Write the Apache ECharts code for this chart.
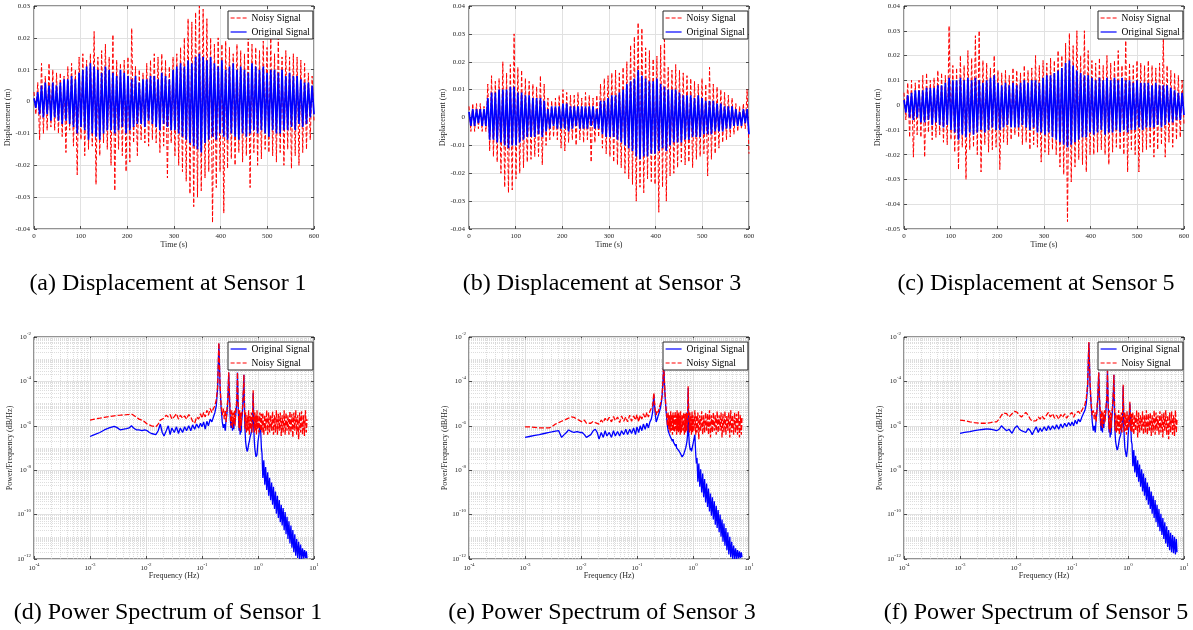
<!DOCTYPE html>
<html>
<head>
<meta charset="utf-8">
<script src="https://cdn.jsdelivr.net/npm/echarts@6/dist/echarts.min.js"></script>
<style>
  html, body { margin: 0; padding: 0; background: #fff; }
  #chart { width: 1193px; height: 630px; }
</style>
</head>
<body>
<div id="chart"></div>
<script>
// ---------------- displacement records (mm), 150 samples over 0..600 s ----------------
const sensor1OrigMm = [
  1, -2, 3, -4, 5, -5, 6, -4, 5, -6,
  6, -5, 5, -6, 6, -7, 7, -6, 7, -7,
  8, -8, 7, -10, 9, -8, 10, -9, 11, -12,
  12, -10, 11, -11, 10, -12, 9, -10, 11, -9,
  10, -9, 9, -10, 8, -9, 10, -8, 9, -10,
  8, -9, 7, -8, 8, -7, 6, -7, 7, -8,
  7, -6, 8, -7, 8, -8, 7, -9, 9, -7,
  8, -8, 7, -9, 10, -9, 11, -10, 12, -11,
  11, -12, 13, -13, 12, -14, 14, -15, 15, -16,
  14, -13, 13, -12, 14, -11, 12, -12, 11, -10,
  13, -11, 10, -12, 11, -10, 12, -11, 10, -12,
  11, -10, 10, -11, 9, -10, 12, -9, 11, -10,
  10, -9, 11, -10, 9, -11, 10, -9, 10, -10,
  9, -10, 10, -9, 8, -9, 9, -8, 8, -9,
  8, -7, 7, -8, 6, -7, 6, -5, 5, -4
];
const sensor1NoisyMm = [
  3, -4, 6, -12, 12, -10, 8, -9, 12, -8,
  10, -9, 9, -10, 9, -11, 8, -16, 11, -9,
  12, -14, 10, -23, 14, -12, 15, -17, 13, -15,
  15, -14, 22, -26, 14, -17, 16, -13, 18, -15,
  14, -20, 21, -28, 13, -15, 12, -17, 13, -22,
  14, -19, 23, -13, 11, -17, 10, -12, 9, -13,
  12, -14, 13, -12, 15, -13, 14, -16, 15, -14,
  13, -24, 11, -13, 14, -17, 15, -20, 17, -22,
  20, -25, 26, -29, 25, -33, 28, -30, 30, -28,
  29, -24, 26, -22, 20, -38, 18, -27, 20, -22,
  18, -35, 19, -21, 17, -18, 15, -20, 18, -16,
  16, -19, 15, -17, 20, -27, 18, -16, 17, -20,
  16, -18, 19, -15, 17, -16, 20, -17, 15, -19,
  20, -16, 14, -20, 16, -15, 14, -21, 15, -17,
  14, -20, 13, -16, 12, -15, 9, -12, 8, -6
];
const sensor3OrigMm = [
  2, -3, 3, -3, 3, -2, 3, -3, 3, -3,
  7, -8, 9, -8, 9, -9, 10, -9, 10, -10,
  10, -11, 11, -10, 11, -10, 9, -9, 9, -8,
  8, -7, 8, -7, 7, -7, 7, -6, 7, -7,
  6, -5, 3, -4, 4, -3, 4, -4, 4, -4,
  5, -4, 5, -5, 4, -4, 4, -3, 4, -4,
  4, -4, 4, -4, 4, -3, 4, -4, 3, -4,
  6, -6, 6, -7, 7, -7, 8, -7, 8, -8,
  9, -9, 10, -10, 12, -11, 13, -12, 14, -14,
  17, -15, 15, -14, 14, -14, 13, -13, 13, -13,
  14, -12, 12, -11, 11, -12, 10, -10, 10, -9,
  10, -9, 9, -9, 8, -8, 8, -8, 8, -7,
  7, -7, 8, -7, 7, -6, 6, -6, 6, -6,
  6, -5, 5, -5, 5, -5, 4, -4, 4, -4,
  4, -3, 3, -3, 2, -3, 3, -2, 3, -6
];
const sensor3NoisyMm = [
  4, -5, 5, -5, 5, -4, 5, -5, 4, -5,
  12, -12, 15, -14, 13, -16, 14, -20, 20, -25,
  16, -27, 19, -26, 30, -22, 18, -20, 17, -18,
  14, -16, 13, -15, 12, -14, 11, -14, 15, -17,
  12, -10, 7, -8, 6, -7, 7, -8, 8, -11,
  10, -12, 9, -9, 8, -8, 8, -10, 9, -8,
  7, -9, 9, -8, 8, -16, 7, -9, 8, -7,
  12, -11, 14, -13, 15, -14, 16, -16, 17, -17,
  16, -18, 18, -20, 20, -22, 26, -24, 29, -30,
  34, -25, 32, -27, 25, -22, 24, -23, 21, -24,
  22, -34, 26, -25, 30, -30, 18, -21, 17, -20,
  19, -18, 17, -16, 16, -17, 15, -16, 14, -18,
  13, -15, 12, -14, 14, -13, 12, -21, 18, -15,
  12, -13, 11, -11, 10, -9, 9, -8, 8, -7,
  7, -6, 5, -5, 4, -4, 5, -4, 10, -13
];
const sensor5OrigMm = [
  2, -3, 4, -5, 5, -6, 6, -5, 6, -7,
  6, -7, 7, -6, 7, -8, 7, -7, 8, -8,
  8, -9, 9, -8, 11, -10, 10, -11, 10, -14,
  11, -12, 10, -13, 11, -11, 10, -12, 11, -11,
  10, -10, 9, -11, 10, -10, 11, -9, 12, -10,
  9, -10, 8, -9, 9, -8, 8, -9, 9, -9,
  8, -9, 9, -8, 10, -9, 9, -10, 10, -9,
  10, -11, 9, -11, 11, -12, 12, -11, 12, -13,
  13, -14, 14, -15, 15, -16, 17, -17, 18, -16,
  16, -15, 14, -14, 13, -13, 12, -13, 12, -11,
  11, -12, 10, -11, 11, -10, 10, -12, 11, -11,
  10, -11, 11, -10, 10, -11, 11, -10, 10, -11,
  10, -10, 9, -10, 10, -9, 9, -10, 9, -9,
  9, -9, 8, -9, 9, -8, 8, -9, 8, -8,
  8, -7, 7, -7, 6, -6, 5, -6, 5, -4
];
const sensor5NoisyMm = [
  5, -6, 9, -13, 10, -21, 9, -12, 10, -13,
  12, -21, 13, -11, 10, -14, 11, -13, 14, -12,
  13, -15, 12, -16, 32, -14, 16, -19, 15, -26,
  20, -17, 16, -30, 22, -18, 19, -17, 28, -20,
  30, -27, 18, -16, 17, -19, 15, -18, 20, -17,
  14, -26, 13, -15, 14, -16, 12, -14, 15, -12,
  14, -13, 13, -16, 16, -15, 14, -18, 15, -16,
  20, -17, 16, -23, 18, -19, 17, -20, 19, -18,
  18, -20, 22, -25, 20, -28, 25, -47, 29, -31,
  24, -25, 30, -22, 20, -24, 30, -27, 22, -20,
  18, -20, 17, -19, 19, -18, 16, -20, 20, -24,
  17, -19, 18, -17, 22, -18, 16, -20, 26, -27,
  17, -18, 16, -20, 18, -27, 17, -19, 16, -18,
  18, -17, 16, -21, 15, -18, 17, -16, 27, -21,
  16, -15, 14, -17, 13, -14, 12, -13, 10, -8
];

// ---------------- power spectral density (shared frequency grid, Hz) ----------------
const freqHz = [
  0.001, 0.0012, 0.0015, 0.0018, 0.0022, 0.0027, 0.003, 0.0035, 0.004, 0.0045,
  0.005, 0.0055, 0.006, 0.0068, 0.0075, 0.0085, 0.0095, 0.0105, 0.0115, 0.0125,
  0.0135, 0.015, 0.0165, 0.018, 0.0195, 0.021, 0.023, 0.025, 0.027, 0.029,
  0.032, 0.035, 0.038, 0.041, 0.045, 0.049, 0.053, 0.058, 0.063, 0.068,
  0.074, 0.08, 0.087, 0.094, 0.1, 0.107, 0.114, 0.122, 0.13, 0.14,
  0.15, 0.16, 0.17, 0.18, 0.19, 0.2, 0.21, 0.22, 0.23, 0.24,
  0.25, 0.26, 0.27, 0.28, 0.29, 0.3, 0.31, 0.32, 0.33, 0.34,
  0.35, 0.36, 0.37, 0.38, 0.39, 0.4, 0.41, 0.42, 0.43, 0.44,
  0.45, 0.46, 0.47, 0.48, 0.49, 0.5, 0.51, 0.52, 0.53, 0.54,
  0.55, 0.56, 0.57, 0.58, 0.59, 0.6, 0.62, 0.64, 0.66, 0.68,
  0.7, 0.72, 0.74, 0.76, 0.78, 0.8, 0.82, 0.84, 0.86, 0.88,
  0.9, 0.92, 0.94, 0.96, 0.98, 1.0, 1.04, 1.08, 1.12, 1.15,
  1.18, 1.22, 1.27, 1.32, 1.37, 1.43, 1.49, 1.55, 1.61, 1.68,
  1.75, 1.82, 1.89, 1.97, 2.05, 2.13, 2.22, 2.31, 2.4, 2.5,
  2.6, 2.7, 2.81, 2.93, 3.05, 3.17, 3.3, 3.43, 3.57, 3.72,
  3.87, 4.03, 4.19, 4.36, 4.54, 4.72, 4.91, 5.11, 5.32, 5.54,
  5.76, 6.0, 6.24, 6.5, 6.76, 7.03, 7.3, 7.5
];
const psd1Orig = [
  3.3e-7, 4e-7, 5e-7, 6.5e-7, 8e-7, 9.5e-7, 8.5e-7, 6.5e-7, 7e-7, 7.5e-7,
  8e-7, 1e-6, 8e-7, 6.5e-7, 6.5e-7, 6e-7, 6.5e-7, 6e-7, 5e-7, 4.5e-7,
  4.5e-7, 4e-7, 6e-7, 1.2e-6, 5e-7, 3.5e-7, 6e-7, 1e-6, 4e-7, 8e-7,
  5e-7, 9e-7, 4.5e-7, 8e-7, 5e-7, 9e-7, 6e-7, 1e-6, 6e-7, 1.1e-6,
  7e-7, 1.2e-6, 8e-7, 1.3e-6, 9e-7, 1.5e-6, 7e-7, 1.6e-6, 1e-6, 2e-6,
  1.5e-6, 2.5e-6, 4e-6, 8e-6, 5e-5, 5e-3, 6e-5, 6e-6, 1.5e-6, 8e-7,
  1.2e-6, 6e-7, 2e-6, 4e-6, 1.5e-5, 2.5e-4, 1.5e-5, 2e-6, 8e-7, 1.5e-6,
  6e-7, 1.8e-6, 7e-7, 2e-6, 1.5e-6, 3e-6, 6e-6, 1.5e-5, 2.5e-4, 1.2e-5,
  2e-6, 6e-7, 1.5e-6, 4e-7, 1e-6, 5e-7, 1.5e-6, 2.5e-6, 5e-6, 1.5e-5,
  4e-5, 2e-4, 1.5e-5, 1.5e-6, 5e-7, 2e-7, 1e-7, 7e-8, 9e-8, 1.5e-7,
  2e-7, 3e-7, 3.5e-7, 5e-7, 8e-7, 1.5e-6, 3e-5, 8e-7, 2e-7, 9e-8,
  6e-8, 4e-8, 3.5e-8, 5e-8, 1e-7, 2e-7, 4e-7, 1e-6, 5e-7, 1e-7,
  5.5e-8, 4.5e-9, 2.8e-8, 2.2e-9, 1.4e-8, 1.3e-9, 8e-9, 7e-10, 4.5e-9, 4.5e-10,
  2.8e-9, 2.8e-10, 1.8e-9, 1.8e-10, 1.1e-9, 1.1e-10, 7e-10, 7e-11, 4.5e-10, 4.5e-11,
  2.8e-10, 3.2e-11, 2e-10, 2e-11, 1.3e-10, 1.3e-11, 8e-11, 8e-12, 5e-11, 5e-12,
  3.2e-11, 3.2e-12, 2e-11, 2e-12, 1.3e-11, 1.4e-12, 8e-12, 1.1e-12, 6e-12, 1e-12,
  4.5e-12, 1e-12, 3e-12, 1.05e-12, 2.5e-12, 1.1e-12, 2.2e-12, 1.1e-12
];
const psd1Noisy = [
  1.8e-6, 2e-6, 2.2e-6, 2.4e-6, 2.6e-6, 2.8e-6, 2.9e-6, 3e-6, 3.1e-6, 3.2e-6,
  3.3e-6, 3.4e-6, 3e-6, 2.4e-6, 2e-6, 1.8e-6, 1.5e-6, 1.2e-6, 1.1e-6, 1e-6,
  9e-7, 9e-7, 1.2e-6, 1.8e-6, 1.5e-6, 2.2e-6, 3e-6, 2.5e-6, 3.2e-6, 2e-6,
  2.6e-6, 3.5e-6, 2e-6, 3e-6, 2.2e-6, 2.8e-6, 2e-6, 3.2e-6, 2.5e-6, 1.6e-6,
  1.3e-6, 2.5e-6, 2e-6, 3.5e-6, 2.2e-6, 4e-6, 2.5e-6, 5e-6, 3e-6, 6e-6,
  4e-6, 6e-6, 8e-6, 1.5e-5, 6e-5, 5.5e-3, 7e-5, 8e-6, 3e-6, 6e-6,
  2e-6, 5e-6, 1.5e-6, 6e-6, 2e-5, 2.6e-4, 2e-5, 4e-6, 1e-6, 5e-6,
  8e-7, 4e-6, 1.2e-6, 5e-6, 1e-6, 6e-6, 8e-6, 2e-5, 2.5e-4, 1.5e-5,
  3e-6, 8e-7, 5e-6, 6e-7, 4e-6, 1e-6, 3e-6, 4e-6, 8e-6, 2e-5,
  5e-5, 2e-4, 2e-5, 3e-6, 7e-7, 4e-6, 5e-7, 3e-6, 6e-7, 5e-6,
  4e-7, 3e-6, 7e-7, 4e-6, 5e-7, 3e-6, 4e-5, 2e-6, 5e-7, 4e-6,
  6e-7, 3e-6, 4e-7, 5e-6, 7e-7, 3e-6, 5e-7, 4e-6, 6e-7, 3.5e-6,
  5e-7, 4e-6, 4e-7, 3e-6, 6e-7, 5e-6, 4e-7, 4e-6, 5e-7, 3e-6,
  6e-7, 4.5e-6, 4e-7, 3e-6, 5e-7, 5e-6, 4e-7, 3.5e-6, 6e-7, 4e-6,
  3.5e-7, 3e-6, 5e-7, 5e-6, 4e-7, 4e-6, 6e-7, 3e-6, 4e-7, 4.5e-6,
  5e-7, 3.5e-6, 3e-7, 4e-6, 6e-7, 5e-6, 4e-7, 3e-6, 2.5e-7, 4e-6,
  5e-7, 4.5e-6, 4e-7, 3e-6, 3.5e-7, 5e-6, 5e-7, 2e-6
];
const psd3Orig = [
  3e-7, 3.3e-7, 3.7e-7, 4e-7, 4.5e-7, 5e-7, 5.3e-7, 5.8e-7, 6e-7, 3e-7,
  4e-7, 5e-7, 6.5e-7, 5.5e-7, 5e-7, 5.5e-7, 5e-7, 5e-7, 4e-7, 3e-7,
  3.2e-7, 4e-7, 6e-7, 7e-7, 5e-7, 2.5e-7, 5e-7, 3e-7, 6e-7, 3.5e-7,
  5e-7, 3e-7, 6e-7, 3.5e-7, 5.5e-7, 3.5e-7, 6e-7, 4e-7, 7e-7, 4e-7,
  7e-7, 4.5e-7, 8e-7, 4e-7, 9e-7, 5e-7, 1e-6, 6e-7, 1.2e-6, 7e-7,
  1.3e-6, 8e-7, 1.5e-6, 2e-6, 4e-6, 2.5e-5, 4e-6, 1.5e-6, 2e-6, 3e-6,
  4e-6, 6e-6, 1e-5, 2e-5, 8e-5, 7e-4, 6e-5, 1.5e-5, 5e-6, 2e-6,
  1e-6, 6e-7, 5e-7, 4e-7, 3.5e-7, 3e-7, 2.5e-7, 3e-7, 2e-7, 2.5e-7,
  1.8e-7, 2e-7, 1.5e-7, 1.8e-7, 1.2e-7, 1.5e-7, 1e-7, 1.2e-7, 9e-8, 1e-7,
  8e-8, 9e-8, 7e-8, 8e-8, 6e-8, 6e-8, 5e-8, 4e-8, 4.5e-8, 5e-8,
  6e-8, 8e-8, 1e-7, 1.4e-7, 2e-7, 4e-7, 5e-5, 4e-7, 1.5e-7, 1e-7,
  8e-8, 1e-7, 7e-8, 9e-8, 1.2e-7, 1.5e-7, 2.5e-7, 4e-7, 5e-8, 2e-8,
  3.5e-8, 3e-9, 2e-8, 1.8e-9, 1.1e-8, 1e-9, 7e-9, 6e-10, 4e-9, 3.5e-10,
  2.5e-9, 2.2e-10, 1.5e-9, 1.4e-10, 9e-10, 9e-11, 6e-10, 6e-11, 4e-10, 3.5e-11,
  2.5e-10, 2.5e-11, 1.6e-10, 1.6e-11, 1e-10, 1e-11, 6e-11, 6e-12, 4e-11, 4e-12,
  2.5e-11, 2.5e-12, 1.6e-11, 1.6e-12, 1e-11, 1.2e-12, 6e-12, 1e-12, 4e-12, 1e-12,
  3e-12, 1e-12, 2.5e-12, 1.05e-12, 2.2e-12, 1.1e-12, 2e-12, 1.2e-12
];
const psd3Noisy = [
  9e-7, 9e-7, 8.5e-7, 8e-7, 8e-7, 8e-7, 9e-7, 1.2e-6, 1.4e-6, 1.6e-6,
  1.8e-6, 2e-6, 2.2e-6, 2.5e-6, 2.4e-6, 2e-6, 1.7e-6, 1.5e-6, 1.8e-6, 1.3e-6,
  1.1e-6, 1.3e-6, 1.6e-6, 1.4e-6, 1.7e-6, 1.2e-6, 1.8e-6, 1.4e-6, 2.2e-6, 1.6e-6,
  2.4e-6, 1.5e-6, 2.6e-6, 1.7e-6, 2.5e-6, 1.4e-6, 2.8e-6, 1.6e-6, 2.5e-6, 1.5e-6,
  3e-6, 1.6e-6, 2.8e-6, 1.8e-6, 3.2e-6, 1.5e-6, 3e-6, 2e-6, 3.5e-6, 2.2e-6,
  4e-6, 2.5e-6, 4.5e-6, 5e-6, 8e-6, 3e-5, 6e-6, 3e-6, 5e-6, 4e-6,
  7e-6, 9e-6, 1.3e-5, 2.5e-5, 9e-5, 8e-4, 8e-5, 2e-5, 6e-6, 3e-6,
  1e-6, 4e-6, 7e-7, 3e-6, 5e-7, 4.5e-6, 6e-7, 3e-6, 4e-7, 4e-6,
  6e-7, 3e-6, 5e-7, 4.5e-6, 7e-7, 3e-6, 4e-7, 5e-6, 6e-7, 3.5e-6,
  5e-7, 4e-6, 6e-7, 3e-6, 4e-7, 4.5e-6, 5e-7, 3e-6, 6e-7, 4e-6,
  4e-7, 3.5e-6, 5e-7, 4e-6, 6e-7, 3e-6, 6e-5, 3e-6, 5e-7, 4e-6,
  6e-7, 3e-6, 4e-7, 4.5e-6, 5e-7, 3e-6, 6e-7, 5e-6, 4e-7, 3e-6,
  5e-7, 4e-6, 2.5e-7, 3e-6, 6e-7, 4.5e-6, 4e-7, 3e-6, 5e-7, 4e-6,
  6e-7, 3.5e-6, 4e-7, 5e-6, 3e-7, 3e-6, 5e-7, 4e-6, 6e-7, 3e-6,
  4e-7, 4.5e-6, 5e-7, 3e-6, 6e-7, 4e-6, 3e-7, 3.5e-6, 5e-7, 4.5e-6,
  4e-7, 3e-6, 6e-7, 4e-6, 3e-7, 5e-6, 5e-7, 3e-6, 4e-7, 4e-6,
  5e-7, 3.5e-6, 4e-7, 4.5e-6, 3e-7, 3e-6, 4e-7, 2.5e-6
];
const psd5Orig = [
  4.6e-7, 5e-7, 5.5e-7, 6e-7, 6.5e-7, 7e-7, 7.2e-7, 7e-7, 6.5e-7, 6e-7,
  7e-7, 1e-6, 8e-7, 6e-7, 7e-7, 4.6e-7, 8e-7, 1e-6, 7e-7, 6e-7,
  6e-7, 5e-7, 7.5e-7, 6e-7, 4e-7, 6e-7, 9e-7, 5e-7, 8e-7, 5.5e-7,
  9e-7, 6e-7, 1e-6, 6.5e-7, 1e-6, 7e-7, 1.1e-6, 7e-7, 1.2e-6, 8e-7,
  1.3e-6, 9e-7, 1.4e-6, 1e-6, 1.5e-6, 1e-6, 1.8e-6, 1.2e-6, 2e-6, 1.5e-6,
  2.5e-6, 3e-6, 5e-6, 1e-5, 6e-5, 5.5e-3, 7e-5, 8e-6, 1.5e-6, 6e-7,
  1e-6, 5e-7, 2e-6, 5e-6, 2e-5, 2.5e-4, 1.5e-5, 2e-6, 6e-7, 1.5e-6,
  5e-7, 2e-6, 8e-7, 2.5e-6, 2e-6, 4e-6, 8e-6, 2e-5, 3e-4, 1.5e-5,
  2e-6, 5e-7, 1.5e-6, 3e-7, 1e-6, 4e-7, 1.5e-6, 3e-6, 6e-6, 1.5e-5,
  4e-5, 2e-4, 1.5e-5, 1.2e-6, 4e-7, 2e-7, 1.2e-7, 8e-8, 1e-7, 1.5e-7,
  2.5e-7, 3e-7, 4e-7, 6e-7, 1e-6, 2e-6, 6e-5, 1e-6, 2.5e-7, 1e-7,
  7e-8, 5e-8, 4e-8, 6e-8, 1e-7, 3e-7, 1e-6, 1e-5, 1e-6, 2e-7,
  1.5e-7, 1.5e-8, 8e-8, 8e-9, 4.5e-8, 5e-9, 2.8e-8, 3e-9, 1.8e-8, 1.8e-9,
  1.1e-8, 1.1e-9, 7e-9, 7e-10, 4.5e-9, 4.5e-10, 2.8e-9, 2.8e-10, 1.8e-9, 1.8e-10,
  1.1e-9, 1.1e-10, 7e-10, 7e-11, 4.5e-10, 4.5e-11, 2.8e-10, 2.8e-11, 1.8e-10, 1.8e-11,
  1.1e-10, 1.2e-11, 7e-11, 8e-12, 4.5e-11, 5e-12, 3e-11, 3.5e-12, 2e-11, 2.5e-12,
  1.5e-11, 2e-12, 1.2e-11, 1.8e-12, 1e-11, 1.6e-12, 8e-12, 2e-12
];
const psd5Noisy = [
  1.8e-6, 1.7e-6, 1.5e-6, 1.4e-6, 1.3e-6, 1.3e-6, 1.3e-6, 1.4e-6, 1.5e-6, 1.5e-6,
  2e-6, 3e-6, 3.8e-6, 3.5e-6, 2.5e-6, 3.5e-6, 4.5e-6, 4e-6, 3e-6, 2.5e-6,
  3e-6, 4e-6, 3e-6, 2e-6, 1.6e-6, 1.5e-6, 1.7e-6, 2.5e-6, 2e-6, 2.8e-6,
  2e-6, 3e-6, 4e-6, 2.5e-6, 3.5e-6, 2.2e-6, 3e-6, 2e-6, 3.2e-6, 2.4e-6,
  3.5e-6, 2.2e-6, 3e-6, 2.5e-6, 4e-6, 2.4e-6, 3.5e-6, 3e-6, 4.5e-6, 3.5e-6,
  5e-6, 6e-6, 9e-6, 1.8e-5, 7e-5, 6e-3, 8e-5, 1e-5, 3e-6, 5e-6,
  2e-6, 4e-6, 1.5e-6, 7e-6, 2.5e-5, 2.6e-4, 2e-5, 4e-6, 1e-6, 5e-6,
  8e-7, 4e-6, 1.2e-6, 5e-6, 1.5e-6, 6e-6, 1e-5, 2.5e-5, 3e-4, 2e-5,
  3e-6, 7e-7, 5e-6, 5e-7, 4e-6, 8e-7, 3e-6, 5e-6, 8e-6, 2e-5,
  5e-5, 2e-4, 2e-5, 3e-6, 6e-7, 4e-6, 5e-7, 3e-6, 6e-7, 5e-6,
  4e-7, 3e-6, 6e-7, 4e-6, 5e-7, 3.5e-6, 7e-5, 3e-6, 5e-7, 4e-6,
  6e-7, 3e-6, 4e-7, 5e-6, 6e-7, 3e-6, 8e-7, 1.2e-5, 6e-7, 3.5e-6,
  5e-7, 4e-6, 4e-7, 3e-6, 6e-7, 5e-6, 3e-7, 4e-6, 5e-7, 3e-6,
  6e-7, 4.5e-6, 4e-7, 3e-6, 5e-7, 5e-6, 4e-7, 3.5e-6, 6e-7, 4e-6,
  3.5e-7, 3e-6, 5e-7, 5e-6, 4e-7, 4e-6, 6e-7, 3e-6, 4e-7, 4.5e-6,
  5e-7, 3.5e-6, 3e-7, 4e-6, 6e-7, 5e-6, 4e-7, 3e-6, 2.5e-7, 4e-6,
  5e-7, 4.5e-6, 4e-7, 3e-6, 3.5e-7, 5e-6, 5e-7, 2e-6
];

// ---------------- labels ----------------
const NAME_NOISY = 'Noisy Signal';
const NAME_ORIG = 'Original Signal';
const dispLimits = [[-0.04, 0.03], [-0.04, 0.04], [-0.05, 0.04]];
const topCaptions = ['(a) Displacement at Sensor 1', '(b) Displacement at Sensor 3', '(c) Displacement at Sensor 5'];
const bottomCaptions = ['(d) Power Spectrum of Sensor 1', '(e) Power Spectrum of Sensor 3', '(f) Power Spectrum of Sensor 5'];

// ---------------- layout & style ----------------
const FONT = '"Liberation Serif", "Times New Roman", serif';
const AXIS_COLOR = '#262626';
const RED = '#ff0000';
const BLUE = '#0000ff';
const panelLefts = [34, 469, 904];
const captionCenters = [168, 602, 1036];
const PLOT_W = 280;
const TOP_ROW = { top: 6, height: 223 };
const BOT_ROW = { top: 337, height: 222 };
const X_LOG = [1e-4, 10];
const Y_LOG = [1e-12, 1e-2];

const tickStyle = { inside: true, length: 3, lineStyle: { color: AXIS_COLOR, width: 0.8 } };
const labelStyle = { fontFamily: FONT, fontSize: 7, color: AXIS_COLOR };
const nameStyle = { fontFamily: FONT, fontSize: 8, color: AXIS_COLOR };
const majorGrid = { show: true, lineStyle: { color: '#e1e1e1', width: 1 } };

const supLabel = {
  formatter: v => '{b|10}{s|' + Math.round(Math.log10(v)) + '}',
  rich: {
    b: { fontFamily: FONT, fontSize: 7, color: AXIS_COLOR, lineHeight: 12 },
    s: { fontFamily: FONT, fontSize: 5, color: AXIS_COLOR, lineHeight: 5, verticalAlign: 'top' }
  }
};

// minor decade grid for the log panels
const minorXs = [];
for (let e = -4; e <= 0; e++) for (let k = 2; k <= 9; k++) minorXs.push(k * Math.pow(10, e));
const minorYs = [];
for (let e = -12; e <= -3; e++) for (let k = 1; k <= 9; k++) {
  if (k === 1 && e % 2 === 0) continue;
  minorYs.push(k * Math.pow(10, e));
}
const minorGridLines = minorXs.map(v => [{ coord: [v, Y_LOG[0]] }, { coord: [v, Y_LOG[1]] }])
  .concat(minorYs.map(v => [{ coord: [X_LOG[0], v] }, { coord: [X_LOG[1], v] }]));

const grids = [], xAxes = [], yAxes = [], series = [], legends = [], graphics = [];

function addGrid(left, row) {
  grids.push({
    left: left, top: row.top, width: PLOT_W, height: row.height,
    show: true, borderColor: AXIS_COLOR, borderWidth: 1, backgroundColor: '#fff'
  });
  return grids.length - 1;
}

// top row: displacement time histories
const dispSets = [
  [sensor1NoisyMm, sensor1OrigMm],
  [sensor3NoisyMm, sensor3OrigMm],
  [sensor5NoisyMm, sensor5OrigMm]
];
dispSets.forEach((set, p) => {
  const gi = addGrid(panelLefts[p], TOP_ROW);
  const [lo, hi] = dispLimits[p];
  const xi = xAxes.length, yi = yAxes.length;
  xAxes.push({
    type: 'value', gridIndex: gi, min: 0, max: 600, interval: 100,
    name: 'Time (s)', nameLocation: 'middle', nameGap: 10, nameTextStyle: nameStyle,
    axisLine: { show: false, onZero: false }, axisTick: tickStyle,
    axisLabel: Object.assign({ margin: 4 }, labelStyle), splitLine: majorGrid
  });
  xAxes.push({
    type: 'value', gridIndex: gi, position: 'top', min: 0, max: 600, interval: 100,
    axisLine: { show: false, onZero: false }, axisTick: tickStyle,
    axisLabel: { show: false }, splitLine: { show: false }
  });
  yAxes.push({
    type: 'value', gridIndex: gi, min: lo, max: hi, interval: 0.01,
    name: 'Displacement (m)', nameLocation: 'middle', nameGap: 20, nameTextStyle: nameStyle,
    axisLine: { show: false, onZero: false }, axisTick: tickStyle,
    axisLabel: Object.assign({ margin: 4 }, labelStyle), splitLine: majorGrid
  });
  yAxes.push({
    type: 'value', gridIndex: gi, position: 'right', min: lo, max: hi, interval: 0.01,
    axisLine: { show: false, onZero: false }, axisTick: tickStyle,
    axisLabel: { show: false }, splitLine: { show: false }
  });
  const toPts = arr => arr.map((v, i) => [i * 600 / (arr.length - 1), v / 1000]);
  series.push({
    name: NAME_NOISY, type: 'line', xAxisIndex: xi, yAxisIndex: yi, data: toPts(set[0]),
    symbol: 'none', silent: true, z: 3,
    lineStyle: { color: RED, width: 1, type: [4, 2] }, itemStyle: { color: RED }
  });
  series.push({
    name: NAME_ORIG, type: 'line', xAxisIndex: xi, yAxisIndex: yi, data: toPts(set[1]),
    symbol: 'none', silent: true, z: 4,
    lineStyle: { color: BLUE, width: 1.7 }, itemStyle: { color: BLUE }
  });
  legends.push({ left: panelLefts[p] + 194, top: 11, data: [NAME_NOISY, NAME_ORIG] });
  graphics.push({
    type: 'text', x: captionCenters[p], y: 284,
    style: { text: topCaptions[p], fontFamily: FONT, fontSize: 24, fill: '#000', align: 'center', verticalAlign: 'middle' }
  });
});

// bottom row: power spectra
const psdSets = [[psd1Orig, psd1Noisy], [psd3Orig, psd3Noisy], [psd5Orig, psd5Noisy]];
psdSets.forEach((set, p) => {
  const gi = addGrid(panelLefts[p], BOT_ROW);
  const xi = xAxes.length, yi = yAxes.length;
  xAxes.push({
    type: 'log', logBase: 10, gridIndex: gi, min: X_LOG[0], max: X_LOG[1], interval: 1,
    name: 'Frequency (Hz)', nameLocation: 'middle', nameGap: 13, nameTextStyle: nameStyle,
    axisLine: { show: false, onZero: false }, axisTick: tickStyle,
    axisLabel: Object.assign({ margin: 3 }, supLabel), splitLine: majorGrid
  });
  xAxes.push({
    type: 'log', logBase: 10, gridIndex: gi, position: 'top', min: X_LOG[0], max: X_LOG[1], interval: 1,
    axisLine: { show: false, onZero: false }, axisTick: tickStyle,
    axisLabel: { show: false }, splitLine: { show: false }
  });
  yAxes.push({
    type: 'log', logBase: 10, gridIndex: gi, min: Y_LOG[0], max: Y_LOG[1], interval: 2,
    name: 'Power/Frequency (dB/Hz)', nameLocation: 'middle', nameGap: 20, nameTextStyle: nameStyle,
    axisLine: { show: false, onZero: false }, axisTick: tickStyle,
    axisLabel: Object.assign({ margin: 3 }, supLabel), splitLine: majorGrid
  });
  yAxes.push({
    type: 'log', logBase: 10, gridIndex: gi, position: 'right', min: Y_LOG[0], max: Y_LOG[1], interval: 2,
    axisLine: { show: false, onZero: false }, axisTick: tickStyle,
    axisLabel: { show: false }, splitLine: { show: false }
  });
  const toPts = arr => arr.map((v, i) => [freqHz[i], v]);
  series.push({
    name: NAME_ORIG, type: 'line', xAxisIndex: xi, yAxisIndex: yi, data: toPts(set[0]),
    symbol: 'none', silent: true, z: 6,
    lineStyle: { color: BLUE, width: 1.3 }, itemStyle: { color: BLUE },
    markLine: {
      silent: true, symbol: ['none', 'none'], label: { show: false }, z: 1, animation: false,
      lineStyle: { color: '#cfcfcf', width: 0.7, type: [1, 1] },
      data: minorGridLines
    }
  });
  series.push({
    name: NAME_NOISY, type: 'line', xAxisIndex: xi, yAxisIndex: yi, data: toPts(set[1]),
    symbol: 'none', silent: true, z: 7,
    lineStyle: { color: RED, width: 1.3, type: [5, 2] }, itemStyle: { color: RED }
  });
  legends.push({ left: panelLefts[p] + 194, top: 342, data: [NAME_ORIG, NAME_NOISY] });
  graphics.push({
    type: 'text', x: captionCenters[p], y: 613,
    style: { text: bottomCaptions[p], fontFamily: FONT, fontSize: 24, fill: '#000', align: 'center', verticalAlign: 'middle' }
  });
});

const legendOption = legends.map(l => Object.assign({
  orient: 'vertical', selectedMode: false, itemWidth: 16, itemHeight: 8, itemGap: 4,
  padding: [2, 3, 2, 2], borderColor: AXIS_COLOR, borderWidth: 1, backgroundColor: '#fff',
  itemStyle: { opacity: 0, borderWidth: 0 },
  lineStyle: { width: 1.2 },
  textStyle: { fontFamily: FONT, fontSize: 9.5, color: '#000' }, z: 20
}, l));

const chart = echarts.init(document.getElementById('chart'), null, { renderer: 'canvas' });
chart.setOption({
  animation: false,
  backgroundColor: '#fff',
  grid: grids,
  xAxis: xAxes,
  yAxis: yAxes,
  legend: legendOption,
  series: series,
  graphic: graphics
});
</script>
</body>
</html>
